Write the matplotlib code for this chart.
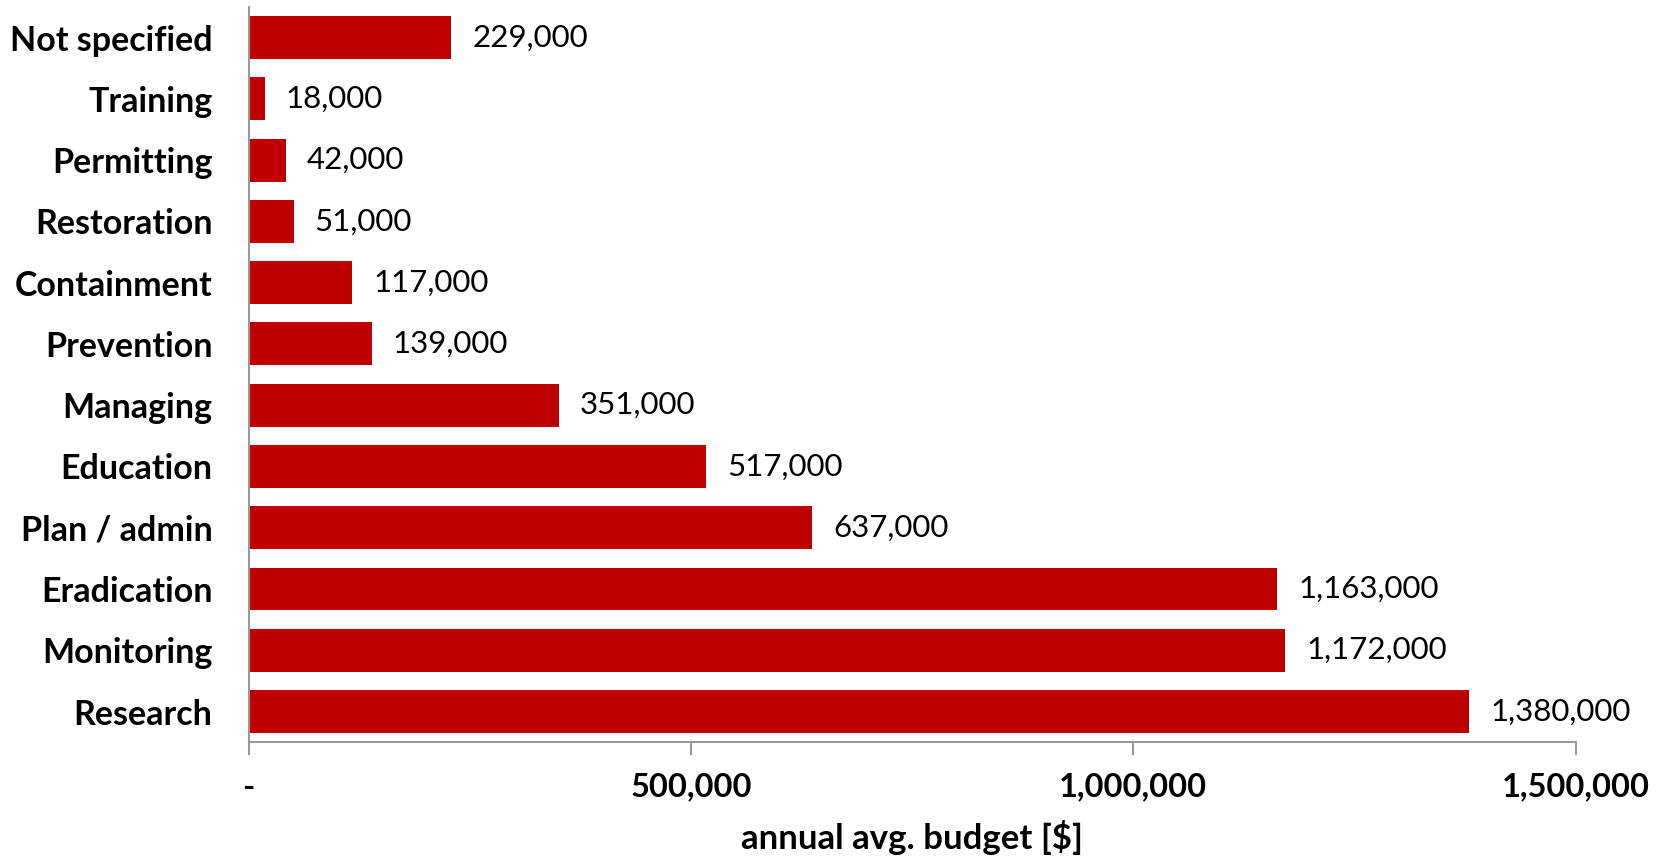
import matplotlib.pyplot as plt
from matplotlib.ticker import FuncFormatter

categories = ["Research", "Monitoring", "Eradication", "Plan / admin", "Education", "Managing",
              "Prevention", "Containment", "Restoration", "Permitting", "Training", "Not specified"]
budget = [1380000, 1172000, 1163000, 637000, 517000, 351000,
          139000, 117000, 51000, 42000, 18000, 229000]
xticks = [0, 500000, 1000000, 1500000]

plt.rcParams['font.family'] = ['Lato', 'DejaVu Sans']

fig = plt.figure(figsize=(16.69, 8.59), dpi=100)
ax = fig.add_axes([0.149, 0.136, 0.795, 0.856])

ax.barh(categories, budget, height=0.7, color='#C00000')
for i, v in enumerate(budget):
    ax.annotate(f"{v:,}", (v, i), xytext=(15, 0), textcoords='offset points',
                va='center', ha='left', fontsize=22.5)

ax.set_xlim(0, 1500000)
ax.set_ylim(-0.5, 11.5)
ax.set_xticks(xticks)
ax.xaxis.set_major_formatter(FuncFormatter(lambda x, p: "-" if x == 0 else f"{int(x):,}"))
ax.tick_params(axis='x', length=9, width=1.5, color='#9a9a9a', pad=13, labelsize=23.5)
ax.tick_params(axis='y', length=0, pad=26, labelsize=24.5)
for lbl in ax.get_xticklabels() + ax.get_yticklabels():
    lbl.set_fontweight('bold')

for s in ['top', 'right']:
    ax.spines[s].set_visible(False)
for s in ['left', 'bottom']:
    ax.spines[s].set_color('#9a9a9a')
    ax.spines[s].set_linewidth(1.5)

ax.set_xlabel("annual avg. budget [$]", fontsize=25, fontweight='bold', labelpad=13)

fig.savefig("out.png", dpi=100)
